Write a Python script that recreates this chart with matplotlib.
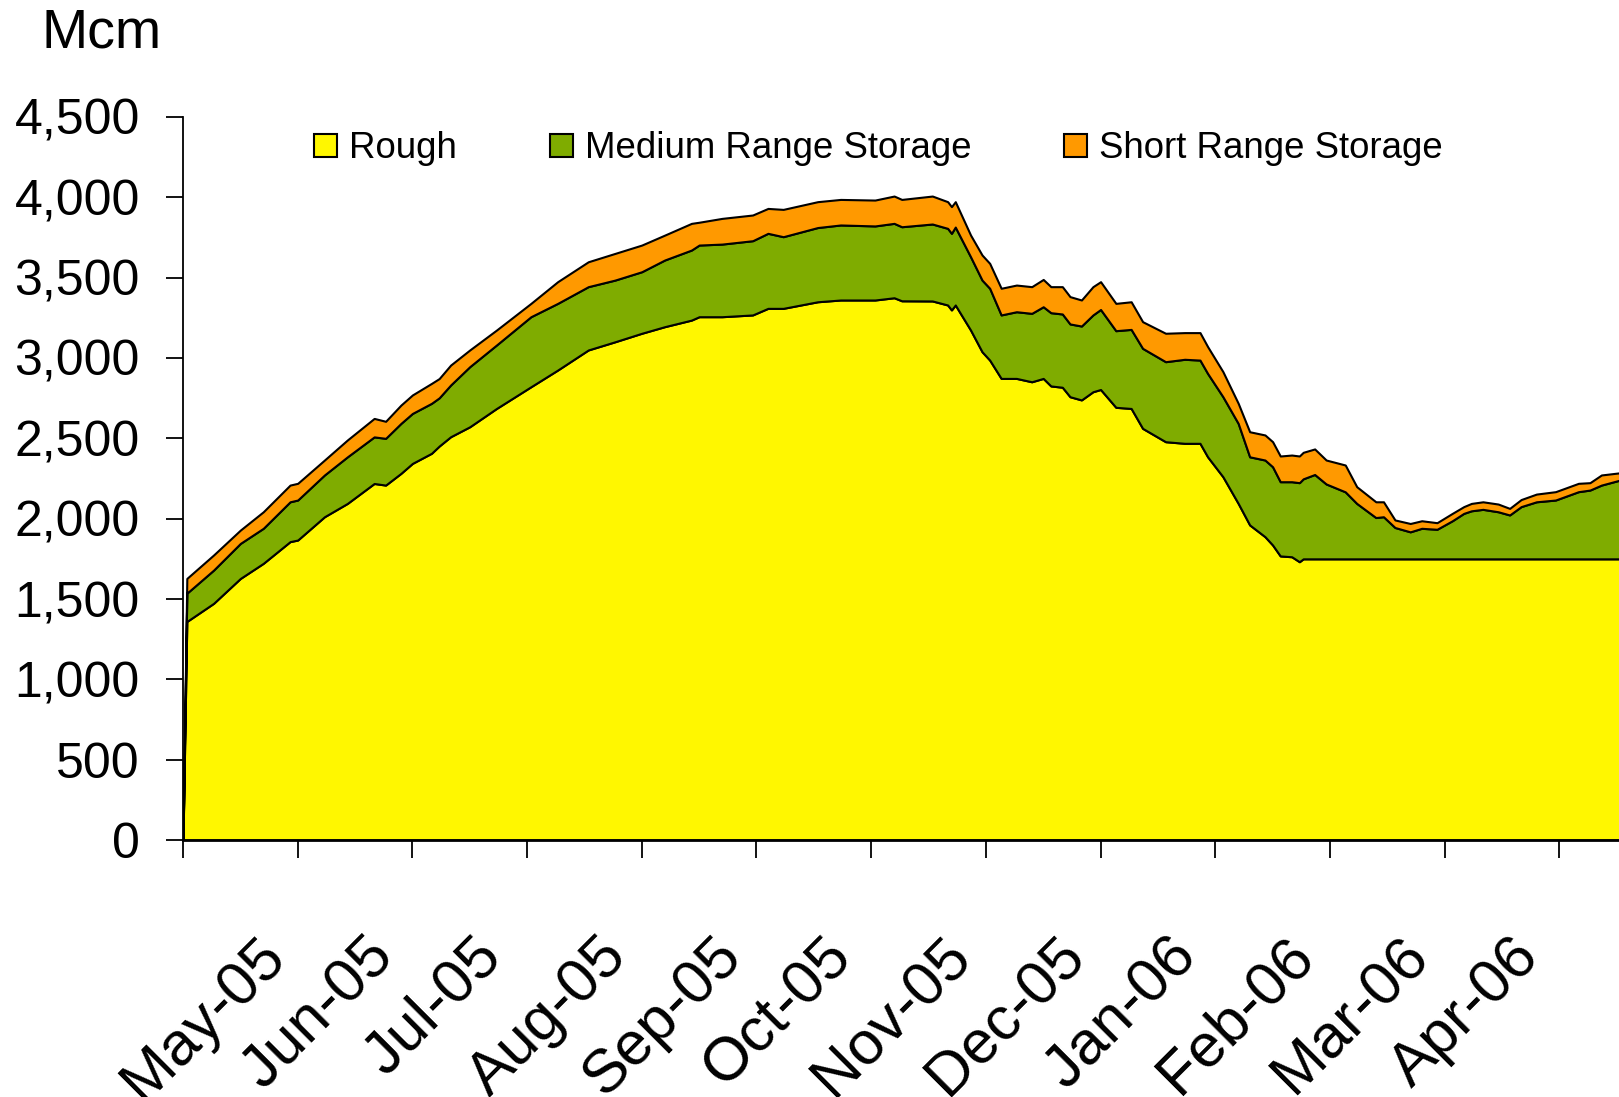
import numpy as np
import matplotlib.pyplot as plt
from matplotlib.ticker import StrMethodFormatter
from matplotlib.transforms import ScaledTranslation

plt.rcParams["font.family"] = ["Liberation Sans", "DejaVu Sans"]

# day index (ticks every 30 points on the category axis)
days = [0, 1, 8, 15, 21, 28, 30, 37, 43, 50, 53, 57, 60, 65, 67, 70, 75, 82, 91, 98,
        106, 113, 120, 126, 133, 135, 141, 149, 153, 157, 166, 172, 181, 186, 188, 196,
        200, 201, 202, 206, 209, 211, 214, 218, 222, 225, 227, 230, 232, 235, 238, 240,
        244, 248, 251, 257, 262, 266, 268, 272, 276, 279, 283, 285, 287, 290, 292, 293,
        296, 299, 304, 307, 312, 314, 317, 321, 324, 328, 332, 335, 337, 340, 344, 347,
        350, 354, 359, 365, 368, 371, 376]

rough = [0, 1360, 1473, 1628, 1722, 1857, 1867, 2012, 2095, 2219, 2209, 2282, 2344, 2407,
         2452, 2510, 2572, 2686, 2821, 2925, 3050, 3101, 3154, 3195, 3236, 3257, 3257,
         3268, 3309, 3309, 3350, 3361, 3361, 3375, 3356, 3355, 3330, 3299, 3330, 3174,
         3039, 2987, 2873, 2873, 2852, 2873, 2826, 2818, 2759, 2739, 2790, 2804, 2693,
         2686, 2562, 2479, 2469, 2469, 2385, 2261, 2095, 1961, 1888, 1836, 1768, 1763,
         1732, 1750, 1750, 1750, 1750, 1750, 1750, 1750, 1750, 1750, 1750, 1750, 1750,
         1750, 1750, 1750, 1750, 1750, 1750, 1750, 1750, 1750, 1750, 1750, 1750]

medium = [0, 176, 207, 218, 218, 248, 249, 260, 290, 290, 291, 311, 311, 311, 300, 322,
          374, 395, 436, 415, 394, 384, 383, 415, 436, 446, 452, 462, 467, 446, 462, 467,
          461, 463, 461, 479, 477, 477, 485, 456, 446, 447, 395, 415, 426, 446, 456, 456,
          453, 460, 478, 498, 477, 492, 498, 498, 523, 518, 519, 498, 498, 424, 477, 487,
          462, 467, 492, 498, 525, 466, 417, 345, 257, 262, 195, 168, 190, 184, 237, 283,
          299, 308, 293, 273, 325, 355, 366, 418, 428, 459, 491]

short = [0, 92, 94, 83, 103, 104, 104, 93, 105, 115, 106, 114, 115, 124, 120, 124, 104,
         93, 83, 135, 155, 166, 166, 155, 166, 142, 160, 160, 155, 170, 161, 159, 161, 170,
         170, 174, 166, 166, 158, 135, 156, 155, 166, 166, 166, 170, 162, 170, 170, 162,
         176, 173, 170, 172, 166, 177, 166, 171, 167, 156, 125, 156, 156, 156, 160, 166,
         166, 165, 159, 149, 167, 104, 98, 93, 47, 52, 47, 41, 46, 42, 46, 47, 48, 41, 44,
         48, 52, 52, 46, 63, 45]

series_names = ["Rough", "Medium Range Storage", "Short Range Storage"]
colors = ["#FFF700", "#7FAC00", "#FF9900"]
month_labels = ["May-05", "Jun-05", "Jul-05", "Aug-05", "Sep-05", "Oct-05",
                "Nov-05", "Dec-05", "Jan-06", "Feb-06", "Mar-06", "Apr-06"]

fig = plt.figure(figsize=(16.19, 10.97), dpi=100)
ax = fig.add_axes([183 / 1619, 1 - 840 / 1097, 1 - 183 / 1619, (840 - 117) / 1097])

ax.stackplot(days, rough, medium, short, labels=series_names, colors=colors,
             edgecolor="black", linewidth=1.5)

ax.set_xlim(0, 375.6)
ax.set_ylim(0, 4500)
ax.set_yticks(np.arange(0, 4501, 500))
ax.yaxis.set_major_formatter(StrMethodFormatter("{x:,.0f}"))

ax.tick_params(axis="y", labelsize=36, length=12, width=1.3, pad=19)
ax.tick_params(axis="x", length=13, width=1.3, pad=50)

ticks = np.arange(13) * 30
ax.set_xticks(ticks)
ax.set_xticklabels(month_labels + [""], rotation=45, ha="center", fontsize=44)
# nudge the rotated month labels to the right, as in the original
for lab in ax.get_xticklabels():
    lab.set_transform(lab.get_transform() + ScaledTranslation(0.21, 0, fig.dpi_scale_trans))

for side in ["top", "right"]:
    ax.spines[side].set_visible(False)
ax.spines["left"].set_linewidth(1.3)
ax.spines["bottom"].set_linewidth(2)

fig.text(41 / 1619, 1 - 48 / 1097, "Mcm", fontsize=40, ha="left", va="baseline")

fig.legend(loc="center left", bbox_to_anchor=(314 / 1619, 1 - 149 / 1097), ncol=3,
           frameon=False, fontsize=26.4, handlelength=0.62, handleheight=0.62,
           handletextpad=0.33, columnspacing=2.54, borderpad=0, borderaxespad=0)

plt.savefig("out.png", dpi=100)
plt.close()
